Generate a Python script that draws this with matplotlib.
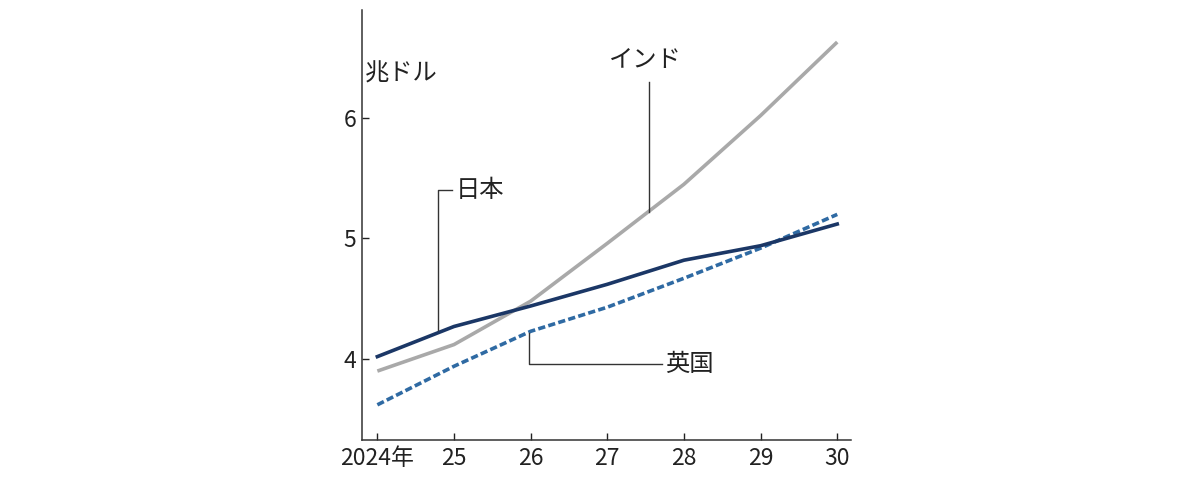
import matplotlib.pyplot as plt

plt.rcParams['font.family'] = ['Noto Sans CJK JP', 'DejaVu Sans']

# Data (trillion USD)
years = [2024, 2025, 2026, 2027, 2028, 2029, 2030]
year_labels = ['2024年', '25', '26', '27', '28', '29', '30']
india = [3.90, 4.12, 4.48, 4.96, 5.45, 6.02, 6.63]
japan = [4.02, 4.27, 4.44, 4.62, 4.82, 4.94, 5.12]
uk = [3.62, 3.94, 4.23, 4.43, 4.67, 4.92, 5.20]

fig = plt.figure(figsize=(12, 4.8), dpi=100)
ax = fig.add_axes([0.3017, 0.0833, 0.4075, 0.8959])

ax.plot(years, india, color='#a9a9a9', lw=2.6, solid_capstyle='butt')
ax.plot(years, uk, color='#2f6aa3', lw=2.6, ls=(0, (2.0, 0.9)))
ax.plot(years, japan, color='#1b3766', lw=2.6)

ax.set_xlim(2023.80, 2030.18)
ax.set_ylim(3.328, 6.896)
ax.set_xticks(years)
ax.set_xticklabels(year_labels)
ax.set_yticks([4, 5, 6])
ax.set_yticklabels(['4', '5', '6'])
ax.tick_params(direction='in', length=5, width=1, labelsize=16.5, colors='#222222', pad=4)
ax.tick_params(axis='x', pad=5)
for s in ['top', 'right']:
    ax.spines[s].set_visible(False)
for s in ['left', 'bottom']:
    ax.spines[s].set_color('#333333')
    ax.spines[s].set_linewidth(1.1)

# unit label
ax.text(2023.84, 6.37, '兆ドル', fontsize=17.5, color='#222222', va='center', ha='left')

# leader lines and series labels
lc = '#333333'
ax.plot([2027.55, 2027.55], [5.22, 6.30], color=lc, lw=1)
ax.text(2027.5, 6.48, 'インド', fontsize=17.5, color='#222222', va='center', ha='center')

ax.plot([2024.79, 2024.79, 2024.98], [4.24, 5.40, 5.40], color=lc, lw=1)
ax.text(2025.02, 5.40, '日本', fontsize=17.5, color='#222222', va='center', ha='left')

ax.plot([2025.98, 2025.98, 2027.72], [4.22, 3.955, 3.955], color=lc, lw=1)
ax.text(2027.76, 3.955, '英国', fontsize=17.5, color='#222222', va='center', ha='left')

fig.savefig('out.png', dpi=100)
